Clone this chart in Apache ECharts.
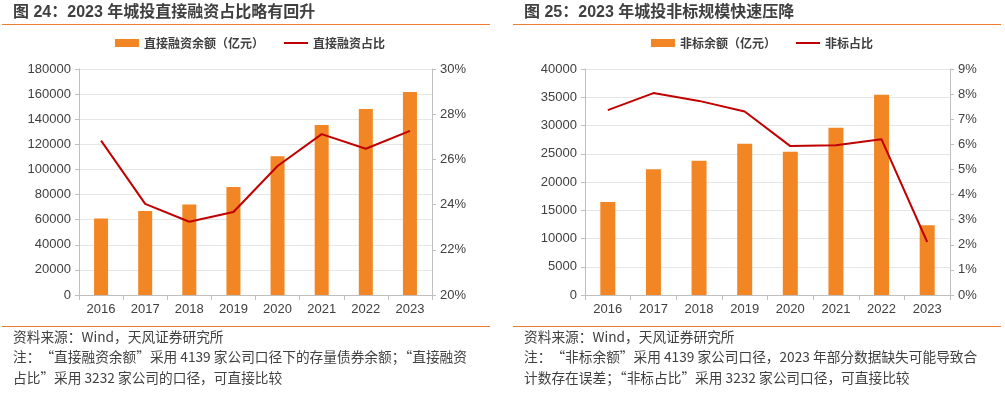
<!DOCTYPE html>
<html><head><meta charset="utf-8">
<script src="https://cdn.jsdelivr.net/npm/echarts@6/dist/echarts.min.js"></script>
<style>html,body{margin:0;padding:0;background:#fff}#c{width:1005px;height:393px}</style>
</head><body><div id="c"></div>
<script>
const years = ['2016','2017','2018','2019','2020','2021','2022','2023'];
const directAmount = [61000, 67000, 72000, 86000, 110500, 135400, 148100, 161700];
const directShare = [26.83, 24.03, 23.24, 23.67, 25.71, 27.12, 26.47, 27.26];
const nonStdAmount = [16460, 22240, 23770, 26780, 25360, 29610, 35450, 12340];
const nonStdShare = [7.36, 8.04, 7.73, 7.31, 5.93, 5.96, 6.20, 2.11];

const FONT = '"Liberation Sans", Arial, "Noto Sans CJK SC", sans-serif';
const CJK = '"Noto Sans CJK SC", sans-serif';
const TXT = '#404040';
const AX = '#bfbfbf';
const BAR = '#F38624';
const LINE = '#C00000';

function xAx(gi){return {type:'category',gridIndex:gi,data:years,
  axisLine:{lineStyle:{color:AX}},axisTick:{show:true,length:5,lineStyle:{color:AX}},
  axisLabel:{color:TXT,fontSize:13,fontFamily:FONT,margin:8}};}
function yAx(gi,min,max,interval,pos,fmt,showSplit){return {type:'value',gridIndex:gi,min,max,interval,position:pos,
  axisLine:{show:true,lineStyle:{color:AX}},axisTick:{show:true,length:4,lineStyle:{color:AX}},
  splitLine:{show:showSplit,lineStyle:{color:'#e6e6e6',width:1}},
  axisLabel:{color:TXT,fontSize:13,fontFamily:FONT,margin:8,formatter:fmt}};}

const chart = echarts.init(document.getElementById('c'));
const footStyle = {fill:TXT,fontSize:13.7,fontFamily:CJK};
const plain = v => String(v);
chart.setOption({
  animation:false,
  textStyle:{fontFamily:FONT},
  grid:[{left:79,right:573,top:69,bottom:98},{left:585,right:55,top:69,bottom:98}],
  legend:[
    {top:37,left:115,padding:0,itemWidth:24,itemHeight:8,itemGap:20,textStyle:{color:TXT,fontSize:12,fontFamily:CJK,fontWeight:'bold'},
     data:[{name:'直接融资余额（亿元）',icon:'rect'},{name:'直接融资占比',icon:'path://M0,0H24V2H0Z'}]},
    {top:37,left:651,padding:0,itemWidth:24,itemHeight:8,itemGap:20,textStyle:{color:TXT,fontSize:12,fontFamily:CJK,fontWeight:'bold'},
     data:[{name:'非标余额（亿元）',icon:'rect'},{name:'非标占比',icon:'path://M0,0H24V2H0Z'}]}
  ],
  xAxis:[xAx(0),xAx(1)],
  yAxis:[
    yAx(0,0,180000,20000,'left',plain,true),
    yAx(0,20,30,2,'right','{value}%',false),
    yAx(1,0,40000,5000,'left',plain,true),
    yAx(1,0,9,1,'right','{value}%',false)
  ],
  series:[
    {name:'直接融资余额（亿元）',type:'bar',xAxisIndex:0,yAxisIndex:0,data:directAmount,barWidth:14,itemStyle:{color:BAR}},
    {name:'直接融资占比',type:'line',xAxisIndex:0,yAxisIndex:1,data:directShare,symbol:'none',lineStyle:{color:LINE,width:2},itemStyle:{color:LINE}},
    {name:'非标余额（亿元）',type:'bar',xAxisIndex:1,yAxisIndex:2,data:nonStdAmount,barWidth:15,itemStyle:{color:BAR}},
    {name:'非标占比',type:'line',xAxisIndex:1,yAxisIndex:3,data:nonStdShare,symbol:'none',lineStyle:{color:LINE,width:2},itemStyle:{color:LINE}}
  ],
  graphic:[
    {type:'text',left:13,top:5,style:{text:'图 24：2023 年城投直接融资占比略有回升',fill:TXT,fontSize:16,fontWeight:'bold',fontFamily:FONT}},
    {type:'text',left:524,top:5,style:{text:'图 25：2023 年城投非标规模快速压降',fill:TXT,fontSize:16,fontWeight:'bold',fontFamily:FONT}},
    {type:'rect',shape:{x:2,y:24,width:488,height:1},style:{fill:'#ED7D31'}},
    {type:'rect',shape:{x:513,y:24,width:488,height:1},style:{fill:'#ED7D31'}},
    {type:'rect',shape:{x:2,y:326,width:488,height:1},style:{fill:'#ED7D31'}},
    {type:'rect',shape:{x:513,y:326,width:488,height:1},style:{fill:'#ED7D31'}},
    {type:'text',left:13,top:330,style:Object.assign({text:'资料来源：Wind，天风证券研究所'},footStyle)},
    {type:'text',left:13,top:350,style:Object.assign({text:'注：“直接融资余额”采用 4139 家公司口径下的存量债券余额；“直接融资'},footStyle)},
    {type:'text',left:13,top:371,style:Object.assign({text:'占比”采用 3232 家公司的口径，可直接比较'},footStyle)},
    {type:'text',left:524,top:330,style:Object.assign({text:'资料来源：Wind，天风证券研究所'},footStyle)},
    {type:'text',left:524,top:350,style:Object.assign({text:'注：“非标余额”采用 4139 家公司口径，2023 年部分数据缺失可能导致合'},footStyle)},
    {type:'text',left:524,top:371,style:Object.assign({text:'计数存在误差；“非标占比”采用 3232 家公司口径，可直接比较'},footStyle)}
  ]
});
</script></body></html>
